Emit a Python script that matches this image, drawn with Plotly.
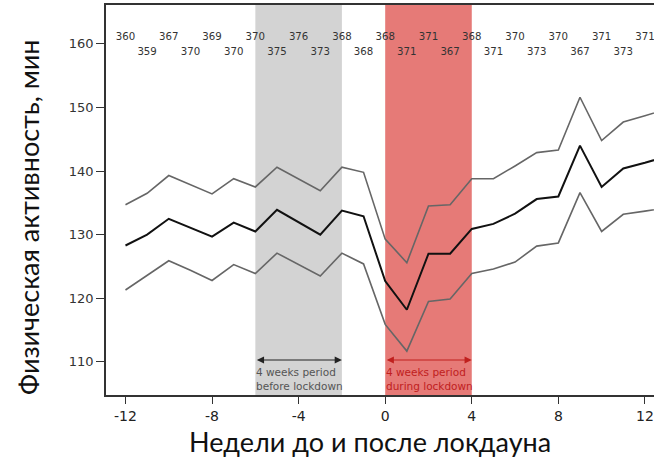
import plotly.graph_objects as go

# Weekly physical activity (minutes): mean with upper/lower bounds
weeks = list(range(-12, 14))
mean_vals = [128.3, 130.0, 132.5, 131.1, 129.7, 131.9, 130.5, 133.9, 132.0, 130.0,
             133.8, 132.9, 122.7, 118.2, 127.0, 127.0, 130.9, 131.7, 133.3, 135.6,
             136.0, 144.0, 137.5, 140.4, 141.3, 142.3]
upper_vals = [134.7, 136.5, 139.3, 137.9, 136.4, 138.8, 137.5, 140.6, 138.8, 136.9,
              140.6, 139.8, 129.3, 125.6, 134.5, 134.7, 138.8, 138.8, 140.8, 142.9,
              143.3, 151.6, 144.8, 147.7, 148.7, 149.7]
lower_vals = [121.3, 123.6, 125.9, 124.4, 122.8, 125.3, 123.9, 127.1, 125.3, 123.5,
              127.1, 125.4, 115.9, 111.7, 119.5, 119.9, 123.9, 124.6, 125.7, 128.2,
              128.7, 136.6, 130.5, 133.2, 133.7, 134.2]

# Number of participants per week
count_weeks = list(range(-12, 13))
counts = [360, 359, 367, 370, 369, 370, 370, 375, 376, 373, 368, 368, 368,
          371, 371, 367, 368, 371, 370, 373, 370, 367, 371, 373, 371]

x_ticks = [-12, -8, -4, 0, 4, 8, 12]
y_ticks = [110, 120, 130, 140, 150, 160]

before_period = (-6, -2)
during_period = (0, 4)

fig = go.Figure()

for vals, color, width in [(upper_vals, "#666666", 1.6),
                           (lower_vals, "#666666", 1.6),
                           (mean_vals, "#111111", 2.0)]:
    fig.add_trace(go.Scatter(x=weeks, y=vals, mode="lines",
                             line=dict(color=color, width=width),
                             showlegend=False, hoverinfo="skip"))

# participant counts in two staggered rows
top_x = [w for w in count_weeks if w % 2 == 0]
top_t = [str(c) for w, c in zip(count_weeks, counts) if w % 2 == 0]
bot_x = [w for w in count_weeks if w % 2 != 0]
bot_t = [str(c) for w, c in zip(count_weeks, counts) if w % 2 != 0]
for xs, ts, yv in [(top_x, top_t, 161.0), (bot_x, bot_t, 158.7)]:
    fig.add_trace(go.Scatter(x=xs, y=[yv] * len(xs), mode="text", text=ts,
                             textfont=dict(family="DejaVu Sans", size=10.2, color="#333333"),
                             showlegend=False, hoverinfo="skip", cliponaxis=False))

# shaded periods
fig.add_shape(type="rect", xref="x", yref="paper", x0=before_period[0], x1=before_period[1],
              y0=0, y1=1, fillcolor="#D3D3D3", line_width=0, layer="below")
fig.add_shape(type="rect", xref="x", yref="paper", x0=during_period[0], x1=during_period[1],
              y0=0, y1=1, fillcolor="#E67A77", line_width=0, layer="below")

arrow_y = 110.3
for (x0, x1), col, txtcol, label in [
        (before_period, "#222222", "#555555", "4 weeks period<br>before lockdown"),
        (during_period, "#C0201E", "#C0201E", "4 weeks period<br>during lockdown")]:
    fig.add_annotation(x=x1, y=arrow_y, ax=x0, ay=arrow_y, xref="x", yref="y",
                       axref="x", ayref="y", text="", showarrow=True,
                       arrowhead=2, arrowsize=1.2, arrowwidth=1.2, arrowcolor=col,
                       arrowside="end+start", startarrowhead=2, startarrowsize=1.2)
    fig.add_annotation(x=x0, y=arrow_y, xref="x", yref="y", text=label,
                       showarrow=False, xanchor="left", yanchor="top", align="left",
                       xshift=-1, yshift=-4,
                       font=dict(family="DejaVu Sans", size=10.5, color=txtcol))

# axis titles
fig.add_annotation(text="Недели до и после локдауна", xref="paper", yref="paper",
                   x=(370 - 106) / 548, y=-(441 - 395) / 390, xanchor="center",
                   yanchor="middle", showarrow=False,
                   font=dict(family="Lato", size=27, color="#111111"))
fig.add_annotation(text="Физическая активность, мин", xref="paper", yref="paper",
                   x=-(106 - 28) / 548, y=(395 - 217) / 390, xanchor="center",
                   yanchor="middle", showarrow=False, textangle=-90,
                   font=dict(family="Lato", size=27, color="#111111"))

fig.update_layout(
    width=654, height=459,
    margin=dict(l=106, r=0, t=5, b=64),
    plot_bgcolor="white", paper_bgcolor="white",
    xaxis=dict(range=[-12.9, 12.42], tickvals=x_ticks, ticktext=[str(t) for t in x_ticks],
               showgrid=False, zeroline=False, showline=True, linecolor="#333333",
               linewidth=1.5, mirror=True, ticks="outside", ticklen=7, tickwidth=1.3,
               tickcolor="#333333", ticklabeloverflow="allow",
               tickfont=dict(family="DejaVu Sans", size=14, color="#222222")),
    yaxis=dict(range=[104.8, 166.1], tickvals=y_ticks, showgrid=False, zeroline=False,
               showline=True, linecolor="#333333", linewidth=1.5, ticks="outside",
               ticklen=8, tickwidth=1.3, tickcolor="#333333",
               tickfont=dict(family="DejaVu Sans", size=13, color="#333333")),
)

fig.write_html("out.html")
